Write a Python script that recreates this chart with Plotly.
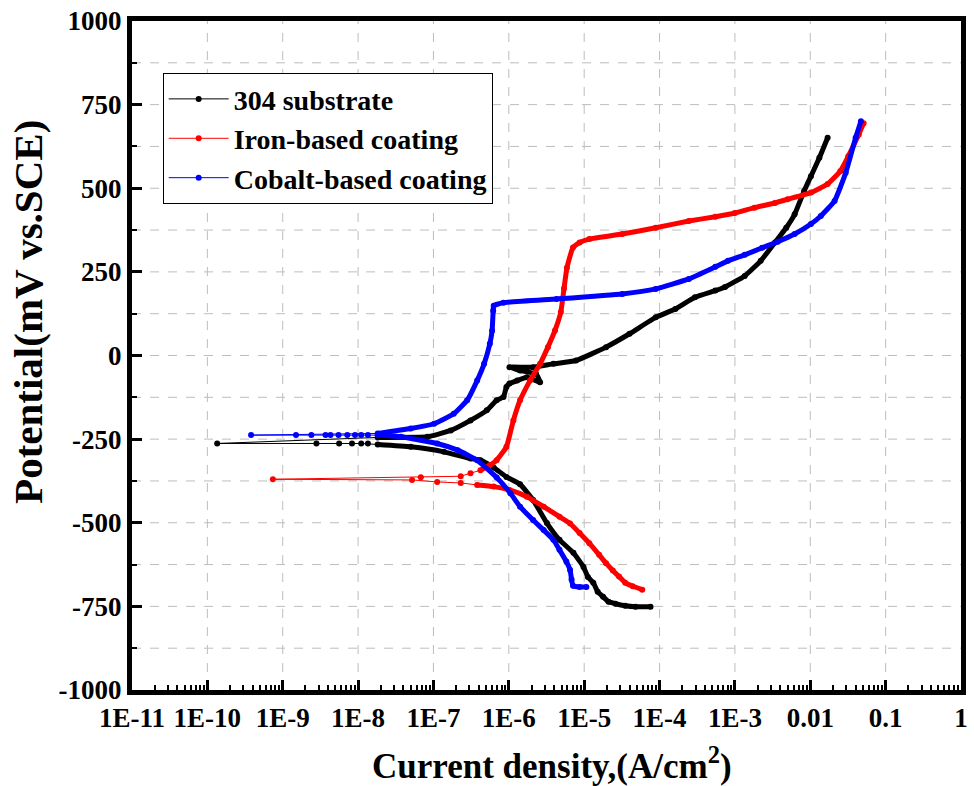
import plotly.graph_objects as go

# ---------------- data (current density A/cm2, potential mV vs SCE) ----------------
# 304 substrate
black_cath_I = [7.6e-5, 4.8e-5, 3.5e-5, 2.6e-5, 2.1e-5, 1.78e-5, 1.51e-5, 1.32e-5, 1.12e-5,
                9.8e-6, 7.2e-6, 4.7e-6, 3.2e-6, 2.1e-6, 1.41e-6, 9.3e-7, 6.3e-7, 4.2e-7,
                3.1e-7, 1.38e-7, 5.0e-8, 1.82e-8]
black_cath_V = [-751, -751, -748, -742, -736, -721, -706, -679, -662,
                -632, -590, -551, -501, -432, -385, -363, -335, -313,
                -308, -288, -273, -266]
black_ecorr_I = [1.35e-8, 1.1e-8, 8.3e-9, 5.6e-9, 2.8e-9, 1.35e-10]
black_ecorr_V = [-263, -263, -263, -263, -263, -263]
black_anod_I = [1.82e-8, 8.3e-8, 1.7e-7, 3.1e-7, 5.1e-7, 6.9e-7, 8.5e-7, 9.3e-7, 1.02e-6,
                1.29e-6, 1.74e-6, 2.6e-6, 2.3e-6, 1.41e-6, 1.02e-6, 2.1e-6, 3.9e-6, 7.8e-6,
                1.95e-5, 4.0e-5, 8.9e-5, 1.62e-4, 2.95e-4, 5.5e-4, 7.4e-4, 1.35e-3, 2.2e-3,
                3.4e-3, 4.8e-3, 6.2e-3, 8.3e-3, 1.02e-2, 1.32e-2, 1.7e-2]
black_anod_V = [-245, -243, -224, -194, -164, -134, -124, -94, -84,
                -75, -65, -80, -55, -45, -35, -35, -25, -15,
                25, 65, 114, 139, 174, 194, 205, 238, 283,
                338, 382, 422, 492, 536, 591, 651]

# Iron-based coating
red_cath_I = [5.9e-5, 4.4e-5, 3.5e-5, 2.9e-5, 2.4e-5, 1.95e-5, 1.58e-5, 1.17e-5, 8.7e-6,
              6.5e-6, 4.7e-6, 2.9e-6, 1.74e-6, 1.02e-6, 6.3e-7, 3.8e-7]
red_cath_V = [-700, -690, -679, -661, -643, -621, -596, -561, -531,
              -502, -482, -452, -422, -402, -392, -387]
red_ecorr_I = [2.3e-7, 1.12e-7, 5.2e-8, 7.4e-10, 6.8e-8, 2.3e-7, 3.1e-7]
red_ecorr_V = [-381, -378, -372, -370, -364, -361, -352]
red_anod_I = [4.2e-7, 5.6e-7, 6.9e-7, 9.3e-7, 1.15e-6, 1.41e-6, 1.91e-6, 2.6e-6, 3.3e-6,
              4.1e-6, 4.9e-6, 5.4e-6, 5.9e-6, 7.1e-6, 8.7e-6, 1.17e-5, 3.2e-5, 8.9e-5,
              2.45e-4, 5.5e-4, 1.0e-3, 1.82e-3, 3.4e-3, 5.0e-3, 1.02e-2, 1.7e-2, 2.5e-2,
              3.2e-2, 4.4e-2, 5.1e-2]
red_anod_V = [-343, -328, -313, -273, -194, -134, -75, -25, 25,
              75, 130, 200, 262, 323, 338, 348, 363, 382,
              402, 415, 426, 442, 456, 467, 487, 513, 551,
              596, 661, 694]

# Cobalt-based coating
blue_cath_I = [1.07e-5, 8.7e-6, 7.1e-6, 6.8e-6, 6.5e-6, 5.8e-6, 4.7e-6, 3.9e-6, 2.9e-6,
               2.1e-6, 1.41e-6, 1.05e-6, 6.9e-7, 3.8e-7, 2.1e-7, 1.12e-7, 3.7e-8, 1.82e-8]
blue_cath_V = [-692, -692, -688, -670, -641, -616, -581, -551, -522,
               -492, -452, -412, -365, -313, -283, -263, -243, -238]
blue_ecorr_I = [1.35e-8, 1.1e-8, 9.1e-9, 7.2e-9, 5.5e-9, 4.3e-9, 3.7e-9, 2.4e-9, 1.5e-9, 3.8e-10]
blue_ecorr_V = [-238, -238, -238, -238, -238, -238, -238, -238, -238, -238]
blue_anod_I = [1.82e-8, 5.0e-8, 1.02e-7, 1.86e-7, 2.8e-7, 3.8e-7, 4.7e-7, 5.6e-7, 6.0e-7,
               6.2e-7, 6.3e-7, 8.5e-7, 4.3e-6, 3.2e-5, 8.9e-5, 2.45e-4, 5.5e-4, 8.1e-4,
               1.35e-3, 2.3e-3, 3.7e-3, 6.2e-3, 1.02e-2, 1.38e-2, 2.1e-2, 2.95e-2, 4.0e-2,
               4.7e-2]
blue_anod_V = [-233, -218, -204, -174, -134, -75, -25, 35, 74,
               134, 149, 158, 169, 184, 199, 229, 265, 283,
               301, 322, 340, 363, 393, 417, 462, 546, 651,
               700]

series_names = ["304 substrate", "Iron-based coating", "Cobalt-based coating"]
series_colors = ["#000000", "#ff0000", "#0000ff"]

x_tickvals = [1e-11, 1e-10, 1e-9, 1e-8, 1e-7, 1e-6, 1e-5, 1e-4, 1e-3, 1e-2, 1e-1, 1]
x_ticktext = ["1E-11", "1E-10", "1E-9", "1E-8", "1E-7", "1E-6", "1E-5", "1E-4",
              "1E-3", "0.01", "0.1", "1"]
y_tickvals = [-1000, -750, -500, -250, 0, 250, 500, 750, 1000]
y_ticktext = ["-1000", "-750", "-500", "-250", "0", "250", "500", "750", "1000"]

# ---------------- figure ----------------
FONT = "Liberation Serif, Times New Roman, serif"
GRID = "#bdbdbd"
fig = go.Figure()

data = [
    (black_cath_I, black_cath_V, black_ecorr_I, black_ecorr_V, black_anod_I, black_anod_V),
    (red_cath_I, red_cath_V, red_ecorr_I, red_ecorr_V, red_anod_I, red_anod_V),
    (blue_cath_I, blue_cath_V, blue_ecorr_I, blue_ecorr_V, blue_anod_I, blue_anod_V),
]

for (cI, cV, eI, eV, aI, aV), name, col in zip(data, series_names, series_colors):
    # dense branches drawn thick (the instrument recorded many points there)
    fig.add_trace(go.Scatter(
        x=cI + [None] + aI, y=cV + [None] + aV, mode="lines",
        line=dict(color=col, width=5, shape="spline", smoothing=0.4),
        showlegend=False, hoverinfo="skip"))
    # full scan drawn with thin line + markers
    fig.add_trace(go.Scatter(
        x=cI + eI + aI, y=cV + eV + aV, mode="lines+markers", name=name,
        line=dict(color=col, width=1),
        marker=dict(color=col, size=6, symbol="circle")))

# dashed grid (drawn as shapes beneath the traces)
grid_x = x_tickvals[1:-1]
grid_y = []
for a, b in zip(y_tickvals[:-1], y_tickvals[1:]):
    if a != y_tickvals[0]:
        grid_y.append(a)
    grid_y.append((a + b) / 2)
shapes = []
for gx in grid_x:
    shapes.append(dict(type="line", xref="x", yref="paper", x0=gx, x1=gx, y0=0, y1=1,
                       layer="below", line=dict(color=GRID, width=1, dash="dash")))
for gy in grid_y:
    shapes.append(dict(type="line", xref="paper", yref="y", x0=0, x1=1, y0=gy, y1=gy,
                       layer="below", line=dict(color=GRID, width=1, dash="dash")))

minor_x = []
for e in range(-11, 0):
    for d in range(2, 10):
        minor_x.append(d * 10.0 ** e)

axis_common = dict(
    showline=True, linecolor="black", linewidth=5, mirror=True,
    ticks="inside", ticklen=10, tickwidth=3, tickcolor="black",
    showgrid=False, zeroline=False,
    tickfont=dict(family=FONT, size=27, color="black", weight="bold"),
)

fig.update_xaxes(
    type="log", range=[-11, 0], tickmode="array", tickvals=x_tickvals, ticktext=x_ticktext,
    minor=dict(tickmode="array", tickvals=minor_x, ticks="inside", ticklen=5, tickwidth=2,
               tickcolor="black", showgrid=False),
    **axis_common)
fig.update_yaxes(
    range=[-1000, 1000], tickmode="array", tickvals=y_tickvals, ticktext=y_ticktext,
    minor=dict(dtick=125, ticks="inside", ticklen=5, tickwidth=2, tickcolor="black",
               showgrid=False),
    **axis_common)

fig.update_layout(
    width=974, height=786,
    margin=dict(l=132, r=6, t=19, b=96),
    paper_bgcolor="white", plot_bgcolor="white",
    font=dict(family=FONT, color="black"),
    showlegend=True,
    shapes=shapes,
    legend=dict(x=0.037, y=0.922, xanchor="left", yanchor="top",
                bgcolor="white", bordercolor="black", borderwidth=1,
                font=dict(family=FONT, size=28, color="black", weight="bold"),
                itemwidth=60, tracegroupgap=0),
    annotations=[
        dict(text="Current density,(A/cm<sup>2</sup>)", xref="paper", yref="paper",
             x=0.507, y=-0.110, xanchor="center", yanchor="middle", showarrow=False,
             font=dict(family=FONT, size=35, color="black", weight="bold")),
        dict(text="Potential(mV vs.SCE)", xref="paper", yref="paper",
             x=-0.1256, y=0.565, xanchor="center", yanchor="middle", showarrow=False,
             textangle=-90,
             font=dict(family=FONT, size=41, color="black", weight="bold")),
    ],
)

fig.write_html("out.html")
